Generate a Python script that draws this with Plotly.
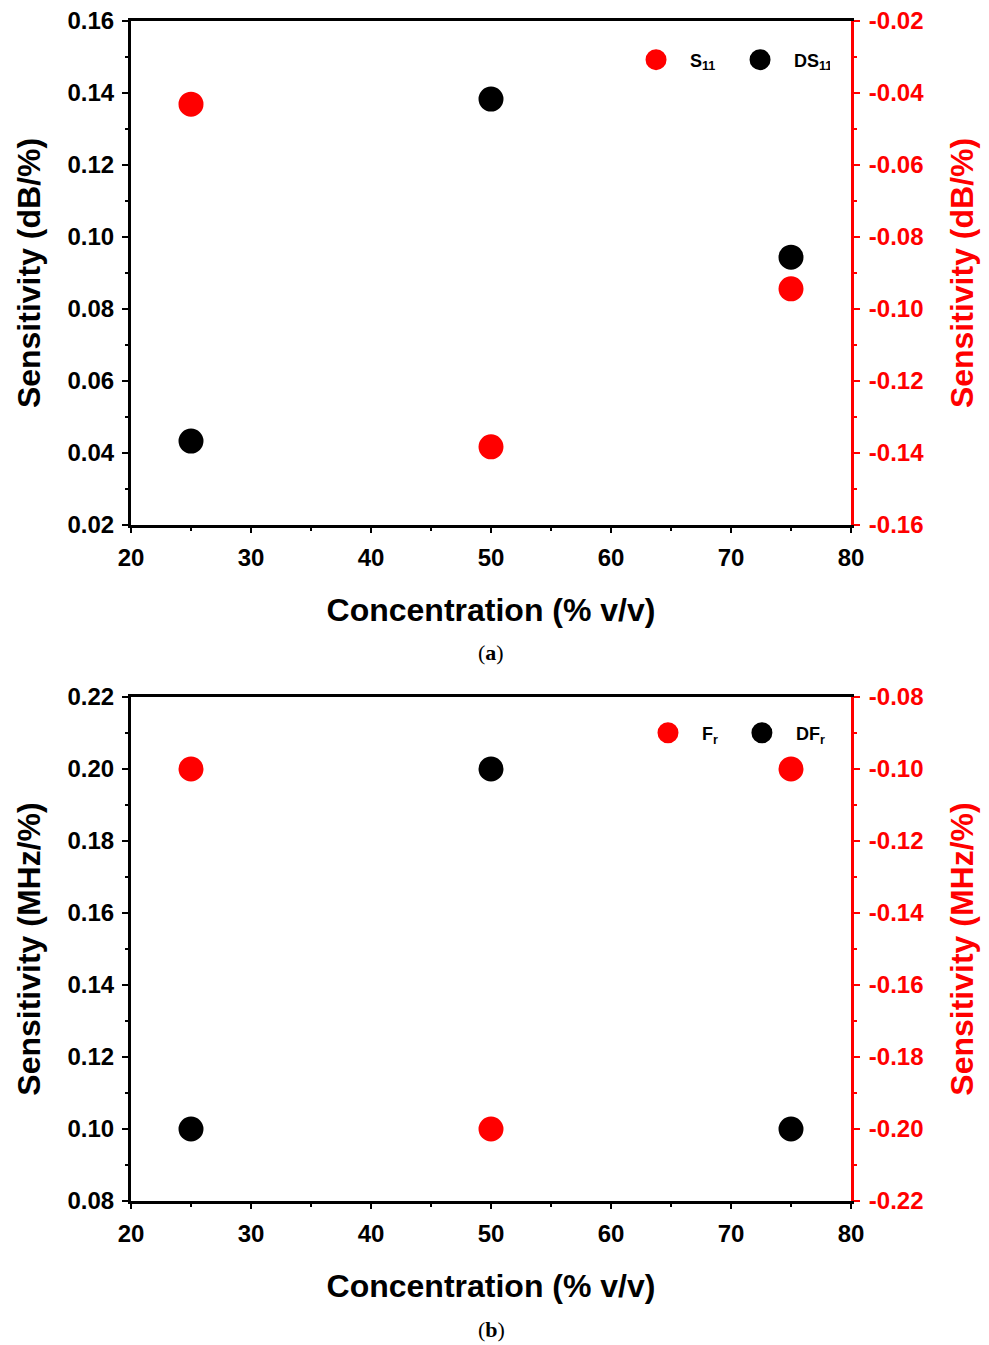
import plotly.graph_objects as go

# ---------------- data ----------------
conc = [25, 50, 75]
# panel (a)
s11 = [-0.0431, -0.1383, -0.0944]      # right axis (red)
ds11 = [0.0433, 0.1383, 0.0944]        # left axis (black)
# panel (b)
fr = [-0.10, -0.20, -0.10]             # right axis (red)
dfr = [0.10, 0.20, 0.10]               # left axis (black)

x_ticks = [20, 30, 40, 50, 60, 70, 80]
ya_left_range = [0.02, 0.16]
ya_right_range = [-0.16, -0.02]
ya_right_ticks = [-0.16, -0.14, -0.12, -0.10, -0.08, -0.06, -0.04, -0.02]
ya_right_labels = ["-0.16", "-0.14", "-0.12", "-0.10", "-0.08", "-0.06", "-0.04", "-0.02"]
yb_left_range = [0.08, 0.22]
yb_right_range = [-0.22, -0.08]
yb_right_ticks = [-0.22, -0.20, -0.18, -0.16, -0.14, -0.12, -0.10, -0.08]
yb_right_labels = ["-0.22", "-0.20", "-0.18", "-0.16", "-0.14", "-0.12", "-0.10", "-0.08"]

RED = "#ff0000"
BLACK = "#000000"
FONT = "Liberation Sans"
TICK_SIZE = 24
TITLE_SIZE = 32

fig = go.Figure()


def mk(color):
    return dict(color=color, size=20, line=dict(width=5, color=color))


fig.add_trace(go.Scatter(x=conc, y=s11, mode="markers", name="S<sub>11</sub>", marker=mk(RED),
                         xaxis="x", yaxis="y2", legend="legend"))
fig.add_trace(go.Scatter(x=conc, y=ds11, mode="markers", name="DS<sub>11</sub>", marker=mk(BLACK),
                         xaxis="x", yaxis="y", legend="legend"))
fig.add_trace(go.Scatter(x=conc, y=fr, mode="markers", name="F<sub>r</sub>&nbsp;", marker=mk(RED),
                         xaxis="x2", yaxis="y4", legend="legend2"))
fig.add_trace(go.Scatter(x=conc, y=dfr, mode="markers", name="DF<sub>r</sub>", marker=mk(BLACK),
                         xaxis="x2", yaxis="y3", legend="legend2"))

tickfont = dict(family=FONT, size=TICK_SIZE, color=BLACK, weight="bold")
titlefont = dict(family=FONT, size=TITLE_SIZE, color=BLACK, weight="bold")


def xax(anchor):
    return dict(range=[20, 80], tickvals=x_ticks, ticks="outside", ticklen=5, tickwidth=2,
                tickcolor=BLACK, showline=True, linecolor=BLACK, linewidth=3, mirror=True,
                showgrid=False, zeroline=False, anchor=anchor, automargin=False,
                ticklabelstandoff=4,
                minor=dict(dtick=5, tick0=0, ticks="outside", ticklen=3, tickwidth=2, tickcolor=BLACK),
                tickfont=tickfont,
                title=dict(text="Concentration (% v/v)", font=titlefont, standoff=29))


def xtop(anchor, overlay):
    return dict(range=[20, 80], tickvals=x_ticks, ticks="inside", ticklen=5, tickwidth=2,
                tickcolor=BLACK, showline=False, showticklabels=False, side="top",
                overlaying=overlay, anchor=anchor, showgrid=False, zeroline=False, automargin=False,
                minor=dict(dtick=5, tick0=0, ticks="inside", ticklen=3, tickwidth=2, tickcolor=BLACK))


def yleft(rng, title, domain, anchor):
    return dict(range=rng, dtick=0.02, tick0=0, tickformat=".2f", ticks="outside", ticklen=6,
                tickwidth=2, tickcolor=BLACK, showline=True, linecolor=BLACK, linewidth=3,
                showgrid=False, zeroline=False, domain=domain, anchor=anchor, automargin=False,
                ticklabelstandoff=3,
                minor=dict(dtick=0.01, tick0=0, ticks="outside", ticklen=3, tickwidth=2, tickcolor=BLACK),
                tickfont=tickfont,
                title=dict(text=title, font=titlefont, standoff=18))


def yright(rng, tv, tt, title, overlay, anchor):
    return dict(range=rng, tickvals=tv, ticktext=tt, ticks="outside", ticklen=6,
                tickwidth=2, tickcolor=RED, showline=True, linecolor=RED, linewidth=3,
                showgrid=False, zeroline=False, overlaying=overlay, side="right", anchor=anchor,
                automargin=False, ticklabelstandoff=4,
                minor=dict(dtick=0.01, tick0=0, ticks="outside", ticklen=3, tickwidth=2, tickcolor=RED),
                tickfont=dict(family=FONT, size=TICK_SIZE, color=RED, weight="bold"),
                title=dict(text=title, font=dict(family=FONT, size=TITLE_SIZE, color=RED, weight="bold"),
                           standoff=28))


legfont = dict(family=FONT, size=18, color=BLACK, weight="bold")

fig.update_layout(
    width=989, height=1345,
    margin=dict(l=131, r=138, t=21, b=144, autoexpand=False),
    paper_bgcolor="white", plot_bgcolor="white",
    xaxis=xax("y"),
    xaxis2=xax("y3"),
    xaxis3=xtop("y", "x"),
    xaxis4=xtop("y3", "x2"),
    yaxis=yleft(ya_left_range, "Sensitivity (dB/%)", [0.5729, 1.0], "x"),
    yaxis2=yright(ya_right_range, ya_right_ticks, ya_right_labels, "Sensitivity (dB/%)", "y", "x"),
    yaxis3=yleft(yb_left_range, "Sensitivity (MHz/%)", [0.0, 0.4271], "x2"),
    yaxis4=yright(yb_right_range, yb_right_ticks, yb_right_labels, "Sensitivity (MHz/%)", "y3", "x2"),
    legend=dict(orientation="h", x=0.682, xanchor="left", y=0.967, yanchor="middle",
                font=legfont, bgcolor="rgba(0,0,0,0)", itemwidth=58,
                entrywidth=31, entrywidthmode="pixels"),
    legend2=dict(orientation="h", x=0.6986, xanchor="left", y=0.3966, yanchor="middle",
                 font=legfont, bgcolor="rgba(0,0,0,0)", itemwidth=58),
    showlegend=True,
)

fig.add_annotation(text="(<b>a</b>)", x=0.5, y=0.4645, xref="paper", yref="paper",
                   xanchor="center", yanchor="middle",
                   showarrow=False, font=dict(family="Liberation Serif", size=22, color=BLACK))
fig.add_annotation(text="(<b>b</b>)", x=0.5, y=-0.1093, xref="paper", yref="paper",
                   xanchor="center", yanchor="middle",
                   showarrow=False, font=dict(family="Liberation Serif", size=22, color=BLACK))

fig.write_html("out.html")
